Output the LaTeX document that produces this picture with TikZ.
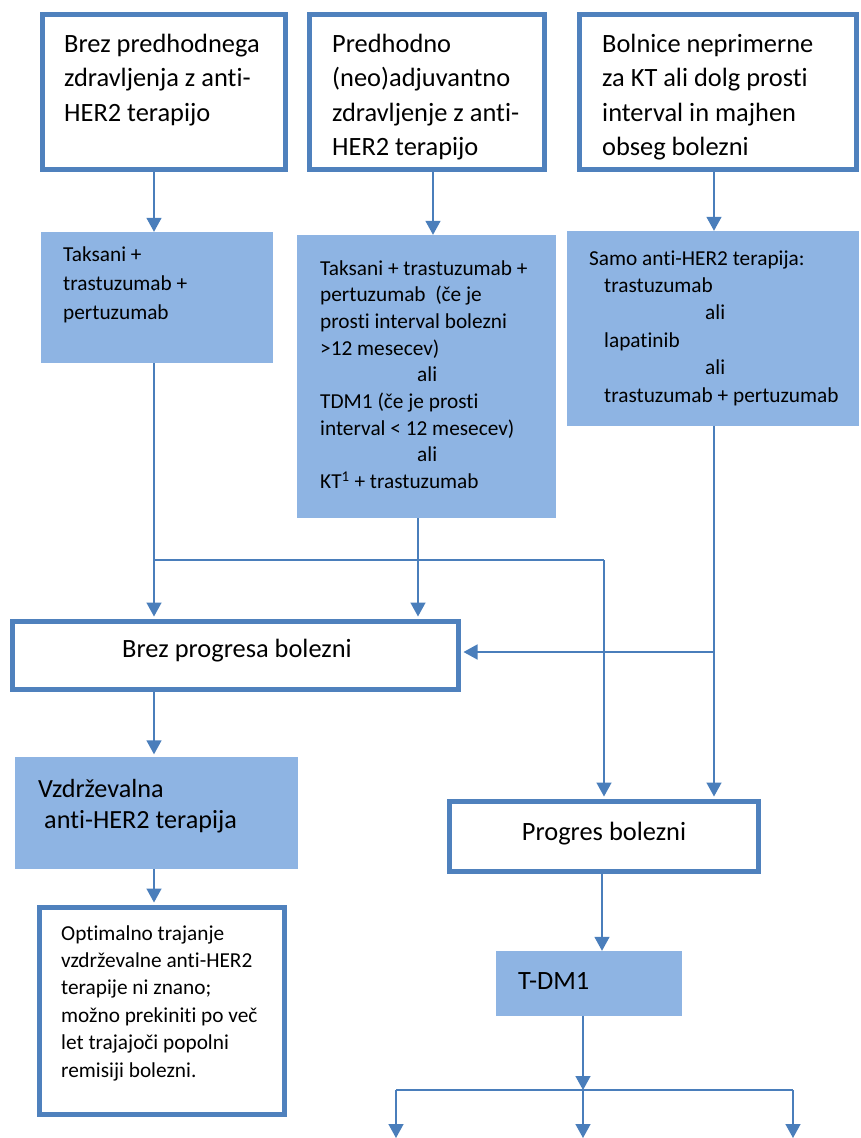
\documentclass[tikz,border=0pt]{standalone}
\usepackage{fontspec}
\setmainfont{Carlito}[Ligatures={NoCommon}]
\usetikzlibrary{arrows.meta}
\definecolor{bord}{RGB}{79,129,189}
\definecolor{fillb}{RGB}{142,180,227}
\definecolor{linec}{RGB}{74,126,187}
\begin{document}
\begin{tikzpicture}[x=1pt,y=-1pt,
  wbox/.style={draw=bord,line width=5pt,fill=white,inner sep=0pt,rectangle},
  bbox/.style={fill=fillb,inner sep=0pt,rectangle},
  arr/.style={draw=linec,line width=1.5pt,-{Triangle[width=15pt,length=14pt]}},
  ln/.style={draw=linec,line width=1.5pt},
  txt/.style={anchor=base west,inner sep=0pt,align=left},
  bigtxt/.style={txt,font=\fontsize{26.4pt}{34.4pt}\selectfont},
  midtxt/.style={txt,font=\fontsize{26.2pt}{31pt}\selectfont},
  smalltxt/.style={txt,font=\fontsize{21.3pt}{27.4pt}\selectfont}]
\useasboundingbox (0,0) rectangle (860,1138);
% boxes
\node[wbox,minimum width=243pt,minimum height=155pt] (top1) at (164,92) {};
\node[wbox,minimum width=235pt,minimum height=155pt] (top2) at (427,92) {};
\node[wbox,minimum width=277pt,minimum height=155pt] (top3) at (718,92) {};
\node[bbox,minimum width=232pt,minimum height=131pt] (b1) at (157,297.5) {};
\node[bbox,minimum width=259pt,minimum height=283pt] (b2) at (426.5,376.5) {};
\node[bbox,minimum width=292pt,minimum height=195pt] (b3) at (713,328.5) {};
\node[wbox,minimum width=446pt,minimum height=68pt] (bp) at (235.5,655.5) {};
\node[bbox,minimum width=283pt,minimum height=112pt] (vz) at (156.5,813) {};
\node[wbox,minimum width=245pt,minimum height=207pt] (op) at (162,1011) {};
\node[wbox,minimum width=309pt,minimum height=70pt] (pg) at (604,836.5) {};
\node[bbox,minimum width=186pt,minimum height=65pt] (td) at (589,983.5) {};
% texts (anchor = baseline of the last line)
\node[bigtxt] (t1) at (64,121.3) {Brez predhodnega\\zdravljenja z anti-\\HER2 terapijo};
\node[bigtxt] (t2) at (332,155.7) {Predhodno\\(neo)adjuvantno\\zdravljenje z anti-\\HER2 terapijo};
\node[bigtxt] (t3) at (602,155.7) {Bolnice neprimerne\\za KT ali dolg prosti\\interval in majhen\\obseg bolezni};
\node[smalltxt,font=\fontsize{21.3pt}{29.3pt}\selectfont] (tb1) at (63,319.6) {Taksani +\\trastuzumab +\\pertuzumab};
\node[smalltxt,font=\fontsize{21.3pt}{26.7pt}\selectfont] (tb2) at (320,488.6) {Taksani + trastuzumab +\\pertuzumab~ (če je\\prosti interval bolezni\\>12 mesecev)\\\hspace*{97pt}ali\\TDM1 (če je prosti\\interval < 12 mesecev)\\\hspace*{97pt}ali\\KT\textsuperscript{1} + trastuzumab};
\node[smalltxt] (tb3) at (589,402) {Samo anti-HER2 terapija:\\\hspace*{15pt}trastuzumab\\\hspace*{116pt}ali\\\hspace*{15pt}lapatinib\\\hspace*{116pt}ali\\\hspace*{15pt}trastuzumab + pertuzumab};
\node[midtxt] (tvz) at (38,828) {Vzdrževalna\\\hspace*{6pt}anti-HER2 terapija};
\node[smalltxt] (top) at (61,1077) {Optimalno trajanje\\vzdrževalne anti-HER2\\terapije ni znano;\\možno prekiniti po več\\let trajajoči popolni\\remisiji bolezni.};
\node[anchor=base,inner sep=0pt,font=\fontsize{26.4pt}{32pt}\selectfont] (tbp) at (237,657) {Brez progresa bolezni};
\node[anchor=base,inner sep=0pt,font=\fontsize{26.4pt}{32pt}\selectfont] (tpg) at (604,840) {Progres bolezni};
\node[anchor=base west,inner sep=0pt,font=\fontsize{26.4pt}{32pt}\selectfont] (ttd) at (518,989) {T-DM1};
% helper coordinates
\coordinate (c1) at (154,0);
\coordinate (c2) at (433,0);
\coordinate (c3) at (714,0);
\coordinate (c4) at (418,0);
\coordinate (c6) at (602,0);
\coordinate (c7) at (583,0);
\coordinate (j1) at (154,560);
\coordinate (j2) at (604,560);
\coordinate (j3) at (714,652);
\coordinate (j4) at (583,1090);
\coordinate (k1) at (396,1090);
\coordinate (k2) at (793,1090);
\coordinate (e1) at (396,1138);
\coordinate (e2) at (583,1138);
\coordinate (e3) at (793,1138);
% connectors
\draw[arr] (top1.south -| c1) -- (b1.north -| c1);
\draw[arr] (top2.south -| c2) -- (b2.north -| c2);
\draw[arr] (top3.south -| c3) -- (b3.north -| c3);
\draw[arr,shorten >=2.5pt] (b1.south -| c1) -- (bp.north -| c1);
\draw[ln] (j1) -- (j2);
\draw[arr,shorten >=2.5pt] (j2) -- (pg.north -| j2);
\draw[arr,shorten >=2.5pt] (b2.south -| c4) -- (bp.north -| c4);
\draw[arr,shorten >=2.5pt] (b3.south -| c3) -- (pg.north -| c3);
\draw[arr,shorten >=2.5pt] (j3) -- (bp.east |- j3);
\draw[arr,shorten >=2.5pt] (bp.south -| c1) -- (vz.north -| c1);
\draw[arr,shorten >=2.5pt] (vz.south -| c1) -- (op.north -| c1);
\draw[arr] (pg.south -| c6) -- (td.north -| c6);
\draw[arr] (td.south -| c7) -- (j4);
\draw[ln] (k1) -- (k2);
\draw[arr] (k1) -- (e1);
\draw[arr] (j4) -- (e2);
\draw[arr] (k2) -- (e3);
\end{tikzpicture}
\end{document}
